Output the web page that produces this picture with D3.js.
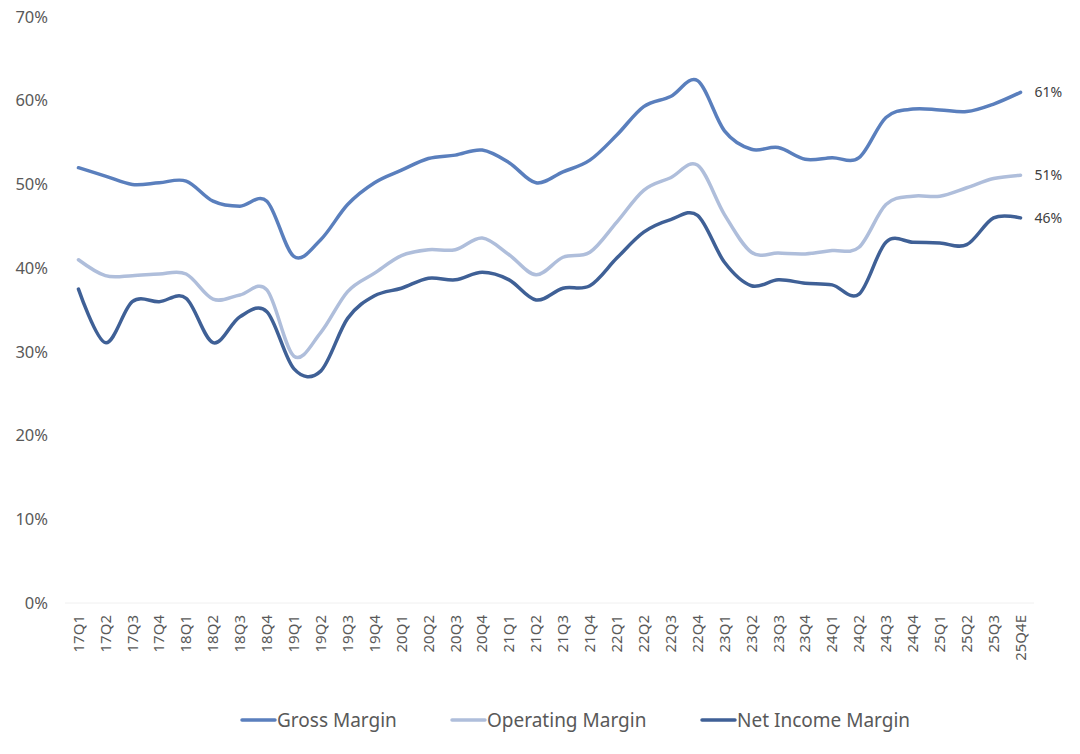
<!DOCTYPE html>
<head>
  <meta charset="utf-8">
  <script src="https://d3js.org/d3.v7.min.js"></script>
  <style>
    body { margin:0; background:#fff; }
    text { font-family: "Noto Sans", "Open Sans", sans-serif; fill:#595959; }
  </style>
</head>
<body>
<script>
  // quarters on the x axis
  var quarters = ["17Q1","17Q2","17Q3","17Q4","18Q1","18Q2","18Q3","18Q4",
    "19Q1","19Q2","19Q3","19Q4","20Q1","20Q2","20Q3","20Q4",
    "21Q1","21Q2","21Q3","21Q4","22Q1","22Q2","22Q3","22Q4",
    "23Q1","23Q2","23Q3","23Q4","24Q1","24Q2","24Q3","24Q4",
    "25Q1","25Q2","25Q3","25Q4E"]

  var gross = [52.0,51.0,50.0,50.2,50.4,48.0,47.4,48.0,
    41.4,43.4,47.6,50.2,51.7,53.1,53.5,54.1,
    52.6,50.2,51.5,52.9,55.9,59.3,60.5,62.4,
    56.4,54.2,54.4,53.0,53.2,53.2,58.0,59.0,
    58.9,58.7,59.6,61.0]

  var operating = [41.0,39.1,39.1,39.3,39.3,36.3,36.8,37.4,
    29.5,32.3,37.2,39.4,41.5,42.2,42.2,43.6,
    41.6,39.2,41.3,41.9,45.5,49.3,50.8,52.3,
    46.4,41.9,41.8,41.7,42.1,42.5,47.6,48.6,
    48.6,49.6,50.7,51.1]

  var net = [37.5,31.1,36.0,36.0,36.4,31.1,34.2,34.8,
    28.0,27.7,34.0,36.7,37.6,38.8,38.6,39.5,
    38.6,36.2,37.6,37.9,41.2,44.3,45.8,46.3,
    40.7,37.9,38.6,38.2,38.0,36.9,43.1,43.1,
    43.0,42.8,46.0,46.0]

  var yTicks = [0,10,20,30,40,50,60,70]
  var seriesNames = ["Gross Margin","Operating Margin","Net Income Margin"]
  var colors = ["#5a7fbd","#afbedb","#3f6096"]
  var allSeries = [gross, operating, net]

  var svg = d3.select("body")
    .append("svg")
    .attr("width", 1080)
    .attr("height", 754)

  var x = d3.scaleBand()
    .domain(quarters)
    .range([65, 1034])

  var y = d3.scaleLinear()
    .domain([0, 70])
    .range([603, 17])

  // y axis labels
  svg.selectAll(".ylab").data(yTicks).enter()
    .append("text")
    .attr("class", "ylab")
    .attr("x", 48)
    .attr("y", function(d) { return y(d); })
    .attr("dy", "0.35em")
    .attr("text-anchor", "end")
    .style("font-size", "16.5px")
    .text(function(d) { return d + "%"; })

  // baseline
  svg.append("line")
    .attr("x1", 65).attr("x2", 1034)
    .attr("y1", y(0)).attr("y2", y(0))
    .attr("stroke", "#f0f0f0")
    .attr("stroke-width", 1)

  var xAxis = d3.axisBottom(x).tickSize(0).tickPadding(0)

  var gx = svg.append("g")
    .attr("transform", "translate(0," + y(0) + ")")
    .call(xAxis)
  gx.select(".domain").remove()
  gx.selectAll("text")
    .attr("transform", "rotate(-90)")
    .attr("x", -12)
    .attr("y", 0)
    .attr("dy", "0.35em")
    .attr("text-anchor", "end")
    .style("font-size", "15px")
    .style("font-family", "\"Noto Sans\", sans-serif")
    .attr("fill", "#595959")

  var line = d3.line()
    .x(function(d, i) { return x(quarters[i]) + x.bandwidth() / 2; })
    .y(function(d) { return y(d); })
    .curve(d3.curveCatmullRom.alpha(0))

  svg.selectAll(".line").data(allSeries).enter()
    .append("path")
    .attr("class", "line")
    .attr("d", function(d) { return line(d); })
    .attr("stroke", function(d, i) { return colors[i]; })
    .attr("stroke-width", 3.5)
    .attr("stroke-linecap", "round")
    .attr("fill", "none")

  // end labels
  var last = quarters.length - 1
  svg.selectAll(".endlab").data(allSeries).enter()
    .append("text")
    .attr("class", "endlab")
    .attr("x", x(quarters[last]) + x.bandwidth() / 2 + 14)
    .attr("y", function(d) { return y(d[last]); })
    .attr("dy", "0.35em")
    .style("font-size", "14px")
    .style("fill", "#404040")
    .text(function(d) { return Math.round(d[last]) + "%"; })

  // legend
  var legX = [242, 452, 702]
  var leg = svg.selectAll(".leg").data(seriesNames).enter()
    .append("g")
    .attr("class", "leg")
    .attr("transform", function(d, i) { return "translate(" + legX[i] + ",720)"; })
  leg.append("line")
    .attr("x1", 0).attr("x2", 33)
    .attr("stroke", function(d, i) { return colors[i]; })
    .attr("stroke-width", 3.5)
    .attr("stroke-linecap", "round")
  leg.append("text")
    .attr("x", 35)
    .attr("dy", "0.35em")
    .style("font-size", "19px")
    .text(function(d) { return d; })
</script>
</body>
